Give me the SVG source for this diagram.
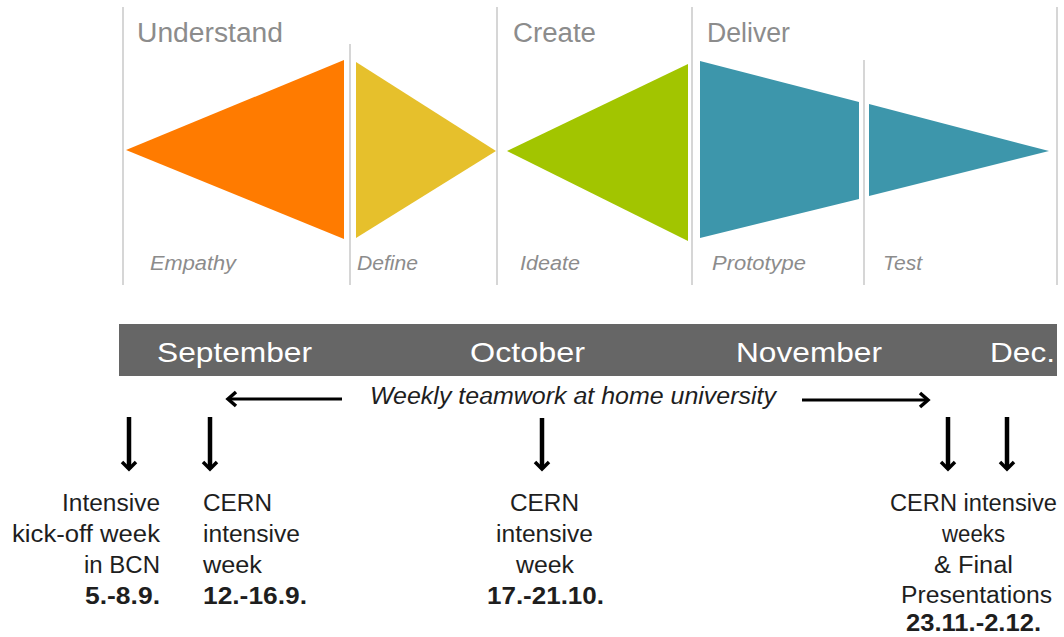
<svg xmlns="http://www.w3.org/2000/svg" width="1064" height="637" viewBox="0 0 1064 637">
<style>
.vl{stroke:#c8c8c8;stroke-width:1.5;fill:none}
.ph{font-family:"Liberation Sans",Arial,sans-serif;font-size:27px;fill:#8c8c8c}
.st{font-family:"Liberation Sans",Arial,sans-serif;font-size:20px;font-style:italic;fill:#8c8c8c}
.mo{font-family:"Liberation Sans",Arial,sans-serif;font-size:28px;fill:#ffffff}
.wk{font-family:"Liberation Sans",Arial,sans-serif;font-size:23px;font-style:italic;fill:#1e1e1e}
.lb{font-family:"Liberation Sans",Arial,sans-serif;font-size:23px;fill:#1e1e1e}
.bd{font-weight:bold}
.ar{stroke:#000;stroke-width:3;fill:none;stroke-linecap:butt}
.da{stroke:#000;stroke-width:4.5;fill:none}
.hd{stroke:#000;stroke-width:3.5;fill:none;stroke-linejoin:miter}
</style>
<rect width="1064" height="637" fill="#ffffff"/>
<g id="gridlines">
<line class="vl" x1="123" y1="7" x2="123" y2="285"/>
<line class="vl" x1="350" y1="44" x2="350" y2="285"/>
<line class="vl" x1="497" y1="7" x2="497" y2="285"/>
<line class="vl" x1="692" y1="7" x2="692" y2="285"/>
<line class="vl" x1="864" y1="60" x2="864" y2="285"/>
<line class="vl" x1="1057" y1="7" x2="1057" y2="285"/>
</g>
<g id="empathy">
<polygon points="126,150 344,60 344,239" fill="#ff7b00"/>
<text class="st" x="150" y="270" textLength="86" lengthAdjust="spacingAndGlyphs">Empathy</text>
</g>
<g id="define">
<polygon points="356,62 496,151 356,238" fill="#e6c02c"/>
<text class="st" x="357" y="270" textLength="61" lengthAdjust="spacingAndGlyphs">Define</text>
</g>
<g id="ideate">
<polygon points="507,151 688,64 688,241" fill="#a2c500"/>
<text class="st" x="520" y="270" textLength="60" lengthAdjust="spacingAndGlyphs">Ideate</text>
</g>
<g id="prototype">
<polygon points="700,61 859,102 859,199 700,238" fill="#3d96ab"/>
<text class="st" x="712" y="270" textLength="94" lengthAdjust="spacingAndGlyphs">Prototype</text>
</g>
<g id="test">
<polygon points="869,104 1049,151 869,196" fill="#3d96ab"/>
<text class="st" x="883" y="270" textLength="39" lengthAdjust="spacingAndGlyphs">Test</text>
</g>
<g id="phases">
<text class="ph" x="137" y="42" textLength="146" lengthAdjust="spacingAndGlyphs">Understand</text>
<text class="ph" x="513" y="42" textLength="83" lengthAdjust="spacingAndGlyphs">Create</text>
<text class="ph" x="707" y="42" textLength="83" lengthAdjust="spacingAndGlyphs">Deliver</text>
</g>
<g id="timeline">
<rect x="119" y="324" width="938" height="52" fill="#666666"/>
<text class="mo" x="157" y="362" textLength="155" lengthAdjust="spacingAndGlyphs">September</text>
<text class="mo" x="470" y="362" textLength="115" lengthAdjust="spacingAndGlyphs">October</text>
<text class="mo" x="736" y="362" textLength="146" lengthAdjust="spacingAndGlyphs">November</text>
<text class="mo" x="990" y="362" textLength="65" lengthAdjust="spacingAndGlyphs">Dec.</text>
</g>
<g id="weekly">
<text class="wk" x="370" y="404" textLength="406" lengthAdjust="spacingAndGlyphs">Weekly teamwork at home university</text>
</g>
<g id="connectors">
<line class="ar" x1="342" y1="399" x2="228" y2="399"/>
<polyline class="hd" points="236,392 228,399 236,406"/>
<line class="ar" x1="802" y1="400" x2="928" y2="400"/>
<polyline class="hd" points="920,393 928,400 920,407"/>
<line class="da" x1="129" y1="417" x2="129" y2="469"/>
<polyline class="hd" points="122,462 129,469 136,462"/>
<line class="da" x1="210" y1="417" x2="210" y2="469"/>
<polyline class="hd" points="203,462 210,469 217,462"/>
<line class="da" x1="542" y1="418" x2="542" y2="469"/>
<polyline class="hd" points="535,462 542,469 549,462"/>
<line class="da" x1="948" y1="417" x2="948" y2="469"/>
<polyline class="hd" points="941,462 948,469 955,462"/>
<line class="da" x1="1007" y1="417" x2="1007" y2="469"/>
<polyline class="hd" points="1000,462 1007,469 1014,462"/>
</g>
<g id="kickoff">
<text class="lb" x="62" y="511" textLength="98" lengthAdjust="spacingAndGlyphs">Intensive</text>
<text class="lb" x="12" y="542" textLength="148" lengthAdjust="spacingAndGlyphs">kick-off week</text>
<text class="lb" x="84" y="573" textLength="76" lengthAdjust="spacingAndGlyphs">in BCN</text>
<text class="lb bd" x="85" y="604" textLength="75" lengthAdjust="spacingAndGlyphs">5.-8.9.</text>
</g>
<g id="cern1">
<text class="lb" x="203" y="511" textLength="69" lengthAdjust="spacingAndGlyphs">CERN</text>
<text class="lb" x="203" y="542" textLength="97" lengthAdjust="spacingAndGlyphs">intensive</text>
<text class="lb" x="203" y="573" textLength="59" lengthAdjust="spacingAndGlyphs">week</text>
<text class="lb bd" x="203" y="604" textLength="104" lengthAdjust="spacingAndGlyphs">12.-16.9.</text>
</g>
<g id="cern2">
<text class="lb" x="510" y="511" textLength="69" lengthAdjust="spacingAndGlyphs">CERN</text>
<text class="lb" x="496" y="542" textLength="97" lengthAdjust="spacingAndGlyphs">intensive</text>
<text class="lb" x="516" y="573" textLength="58" lengthAdjust="spacingAndGlyphs">week</text>
<text class="lb bd" x="487" y="604" textLength="117" lengthAdjust="spacingAndGlyphs">17.-21.10.</text>
</g>
<g id="cern3">
<text class="lb" x="890" y="511" textLength="167" lengthAdjust="spacingAndGlyphs">CERN intensive</text>
<text class="lb" x="942" y="542" textLength="63" lengthAdjust="spacingAndGlyphs">weeks</text>
<text class="lb" x="934" y="573" textLength="79" lengthAdjust="spacingAndGlyphs">&amp; Final</text>
<text class="lb" x="901" y="603" textLength="151" lengthAdjust="spacingAndGlyphs">Presentations</text>
<text class="lb bd" x="906" y="631" textLength="135" lengthAdjust="spacingAndGlyphs">23.11.-2.12.</text>
</g>
</svg>
